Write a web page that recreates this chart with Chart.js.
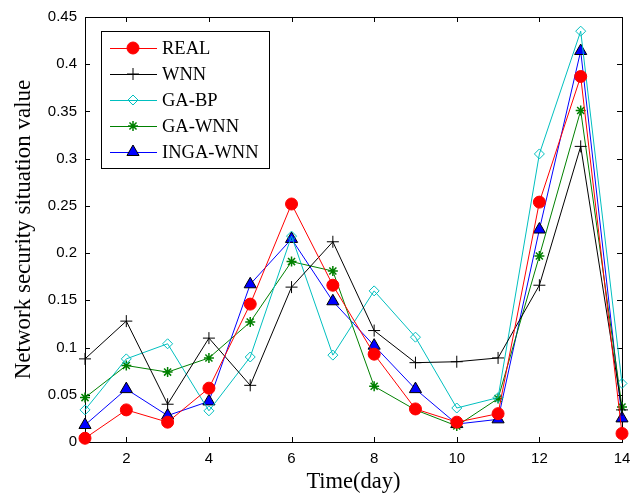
<!DOCTYPE html>
<html>
<head>
<meta charset="utf-8">
<script src="https://cdn.jsdelivr.net/npm/chart.js@4/dist/chart.umd.min.js"></script>
<style>
  html, body { margin: 0; padding: 0; background: #fff; }
  #wrap { width: 644px; height: 500px; }
</style>
</head>
<body>
<div id="wrap"><canvas id="chart" width="644" height="500"></canvas></div>
<script>
// data
const days = [1, 2, 3, 4, 5, 6, 7, 8, 9, 10, 11, 12, 13, 14];
const real   = [0.004, 0.034, 0.021, 0.057, 0.146, 0.252, 0.166, 0.093, 0.035, 0.021, 0.030, 0.254, 0.387, 0.009];
const wnn    = [0.088, 0.128, 0.040, 0.110, 0.060, 0.164, 0.212, 0.118, 0.084, 0.085, 0.089, 0.166, 0.313, 0.034];
const gaBp   = [0.034, 0.088, 0.104, 0.033, 0.090, 0.218, 0.092, 0.160, 0.111, 0.036, 0.047, 0.305, 0.435, 0.062];
const gaWnn  = [0.047, 0.081, 0.074, 0.089, 0.127, 0.191, 0.181, 0.059, 0.034, 0.017, 0.046, 0.197, 0.351, 0.037];
const ingaWnn = [0.018, 0.056, 0.028, 0.043, 0.167, 0.215, 0.149, 0.102, 0.056, 0.019, 0.024, 0.225, 0.414, 0.025];
const xTicks = [2, 4, 6, 8, 10, 12, 14];
const yTicks = [0, 0.05, 0.1, 0.15, 0.2, 0.25, 0.3, 0.35, 0.4, 0.45];

const pts = arr => arr.map((v, i) => ({ x: days[i], y: v }));

const datasets = [
  { label: 'REAL', data: pts(real), borderColor: '#ff0000', backgroundColor: '#ff0000',
    pointStyle: 'circle', pointRadius: 6, pointBorderColor: '#ff0000', pointBackgroundColor: '#ff0000' },
  { label: 'WNN', data: pts(wnn), borderColor: '#000000', backgroundColor: '#000000',
    pointStyle: 'cross', pointRadius: 6, pointBorderColor: '#000000', pointBorderWidth: 1 },
  { label: 'GA-BP', data: pts(gaBp), borderColor: '#00bfbf', backgroundColor: '#00bfbf',
    pointStyle: 'rectRot', pointRadius: 5, pointBorderColor: '#00bfbf', pointBackgroundColor: 'rgba(0,0,0,0)', pointBorderWidth: 1 },
  { label: 'GA-WNN', data: pts(gaWnn), borderColor: '#008000', backgroundColor: '#008000',
    pointStyle: 'star', pointRadius: 5, pointBorderColor: '#008000', pointBorderWidth: 1.5 },
  { label: 'INGA-WNN', data: pts(ingaWnn), borderColor: '#0000ff', backgroundColor: '#0000ff',
    pointStyle: 'triangle', pointRadius: 7, pointBorderColor: '#000000', pointBackgroundColor: '#0000ff', pointBorderWidth: 1 }
];
datasets.forEach(d => { d.borderWidth = 1; d.tension = 0; d.fill = false; d.clip = false; });

// box frame with inward ticks (matlab style)
const frame = {
  id: 'frame',
  beforeDatasetsDraw(chart) {
    const { ctx, chartArea: a, scales } = chart;
    ctx.save();
    ctx.strokeStyle = '#000';
    ctx.lineWidth = 1;
    ctx.strokeRect(a.left + 0.5, a.top + 0.5, a.right - a.left, a.bottom - a.top);
    ctx.beginPath();
    xTicks.forEach(t => {
      const px = Math.round(scales.x.getPixelForValue(t)) + 0.5;
      ctx.moveTo(px, a.bottom); ctx.lineTo(px, a.bottom - 5);
      ctx.moveTo(px, a.top); ctx.lineTo(px, a.top + 5);
    });
    yTicks.forEach(t => {
      const py = Math.round(scales.y.getPixelForValue(t)) + 0.5;
      ctx.moveTo(a.left, py); ctx.lineTo(a.left + 5, py);
      ctx.moveTo(a.right, py); ctx.lineTo(a.right - 5, py);
    });
    ctx.stroke();
    ctx.restore();
  }
};

// legend drawn inside the plot with line + marker samples
const boxLegend = {
  id: 'boxLegend',
  afterDraw(chart) {
    const { ctx } = chart;
    const x0 = 101, y0 = 31, w = 168, h = 137;
    ctx.save();
    ctx.fillStyle = '#fff';
    ctx.fillRect(x0, y0, w, h);
    ctx.strokeStyle = '#000';
    ctx.lineWidth = 1;
    ctx.strokeRect(x0 + 0.5, y0 + 0.5, w, h);
    ctx.font = '18.5px "Liberation Serif", "Times New Roman", serif';
    ctx.textBaseline = 'middle';
    chart.data.datasets.forEach((d, i) => {
      const y = y0 + 17 + i * 26;
      ctx.strokeStyle = d.borderColor;
      ctx.lineWidth = 1;
      ctx.beginPath();
      ctx.moveTo(110, y + 0.5); ctx.lineTo(157, y + 0.5);
      ctx.stroke();
      ctx.lineWidth = d.pointBorderWidth || 1;
      ctx.strokeStyle = d.pointBorderColor;
      ctx.fillStyle = d.pointBackgroundColor || d.borderColor;
      Chart.helpers.drawPoint(ctx, { pointStyle: d.pointStyle, radius: d.pointRadius, rotation: 0, borderWidth: d.pointBorderWidth || 1 }, 133, y);
      ctx.fillStyle = '#000';
      ctx.fillText(d.label, 162, y + 1);
    });
    ctx.restore();
  }
};

const options = {
  responsive: false,
  animation: false,
  events: [],
  layout: { padding: { top: 12, right: 22, left: 0, bottom: 0 } },
  plugins: { legend: { display: false }, tooltip: { enabled: false } },
  scales: {
    x: {
      type: 'linear', min: 1, max: 14,
      afterBuildTicks: s => { s.ticks = xTicks.map(v => ({ value: v })); },
      afterFit: s => { s.height = 58; },
      grid: { display: false, drawTicks: false },
      border: { display: false },
      ticks: { color: '#000', padding: 8, font: { family: '"Liberation Sans", Arial, sans-serif', size: 15 } },
      title: { display: true, text: 'Time(day)', color: '#000', padding: { top: 2 },
        font: { family: '"Liberation Serif", "Times New Roman", serif', size: 22.5 } }
    },
    y: {
      min: 0, max: 0.45,
      afterBuildTicks: s => { s.ticks = yTicks.map(v => ({ value: v })); },
      afterFit: s => { s.width = 85; },
      grid: { display: false, drawTicks: false },
      border: { display: false },
      ticks: { color: '#000', padding: 8, font: { family: '"Liberation Sans", Arial, sans-serif', size: 15 },
        callback: v => String(+v.toFixed(2)) },
      title: { display: true, text: 'Network security situation value', color: '#000', padding: { top: 10, bottom: 4 },
        font: { family: '"Liberation Serif", "Times New Roman", serif', size: 23 } }
    }
  }
};

new Chart(document.getElementById('chart'), {
  type: 'line',
  data: { datasets },
  options,
  plugins: [frame, boxLegend]
});
</script>
</body>
</html>
